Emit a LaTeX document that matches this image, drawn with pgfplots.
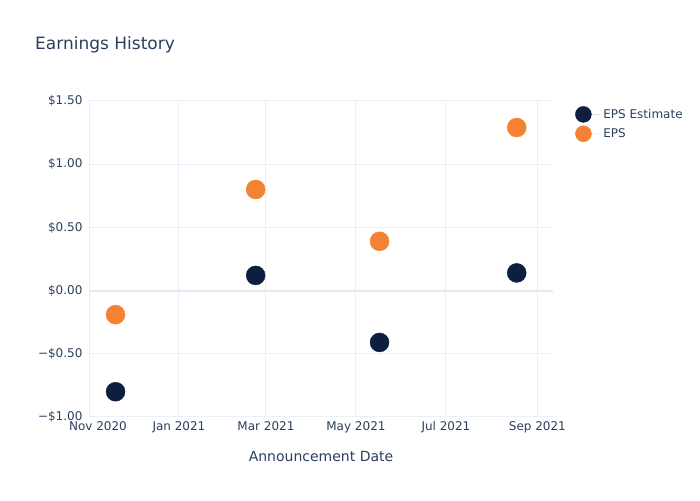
\documentclass[border=0pt]{standalone}
\usepackage{pgfplots}
\pgfplotsset{compat=1.18}
\usepackage{fontspec}
\setmainfont{DejaVu Sans}
\definecolor{txt}{HTML}{2A3F5F}
\definecolor{gridc}{HTML}{EBF0F8}
\definecolor{zeroc}{HTML}{E4E9F2}
\definecolor{navy}{HTML}{0D1F3F}
\definecolor{orng}{HTML}{F58233}
\begin{document}
\begin{tikzpicture}
\path[use as bounding box] (0pt,0pt) rectangle (700pt,500pt);
\node[anchor=base west, text=txt, font=\fontsize{17}{20}\selectfont, inner sep=0] at (35pt,450pt) {Earnings History};
\begin{axis}[
  at={(89pt,83pt)}, anchor=south west,
  scale only axis, width=464pt, height=316pt,
  xmin=0, xmax=314.6, ymin=-1, ymax=1.5,
  axis line style={draw=none},
  major tick length=0pt,
  grid=major, grid style={gridc, line width=1pt},
  xtick={0,61,120,181,242,304},
  xticklabels={\hspace*{18pt}Nov 2020,Jan 2021,Mar 2021,May 2021,Jul 2021,Sep 2021},
  ytick={-1,-0.5,0,0.5,1,1.5},
  yticklabels={−\$1.00,−\$0.50,\$0.00,\$0.50,\$1.00,\$1.50},
  extra y ticks={0}, extra y tick labels={},
  extra y tick style={grid style={zeroc, line width=2pt}},
  ticklabel style={text=txt, font=\fontsize{12}{14}\selectfont},
  xticklabel style={yshift=-1pt},
  yticklabel style={xshift=-3pt},
  xlabel={Announcement Date},
  xlabel style={text=txt, font=\fontsize{14}{16}\selectfont, yshift=-11pt},
  legend style={draw=none, fill=none, at={(1,1)}, anchor=north west, xshift=19pt, yshift=-3pt,
    font=\fontsize{12}{14}\selectfont, text=txt, row sep=3pt, nodes={inner ysep=2pt}},
  legend cell align=left,
  legend image code/.code={\fill[#1] (0.3cm,0cm) circle (8pt); \path[draw=none] (0.3cm,0cm) -- ++(18pt,0pt);},
  clip=false,
]
\addplot[only marks, mark=*, mark size=9.5pt, color=navy, fill=navy, mark options={draw=none, fill=navy}] table {
x y
18 -0.80
113 0.12
197 -0.41
290 0.14
};
\addlegendentry{EPS Estimate}
\addplot[only marks, mark=*, mark size=9.5pt, color=orng, fill=orng, mark options={draw=none, fill=orng}] table {
x y
18 -0.19
113 0.80
197 0.39
290 1.29
};
\addlegendentry{EPS}
\end{axis}
\end{tikzpicture}
\end{document}
